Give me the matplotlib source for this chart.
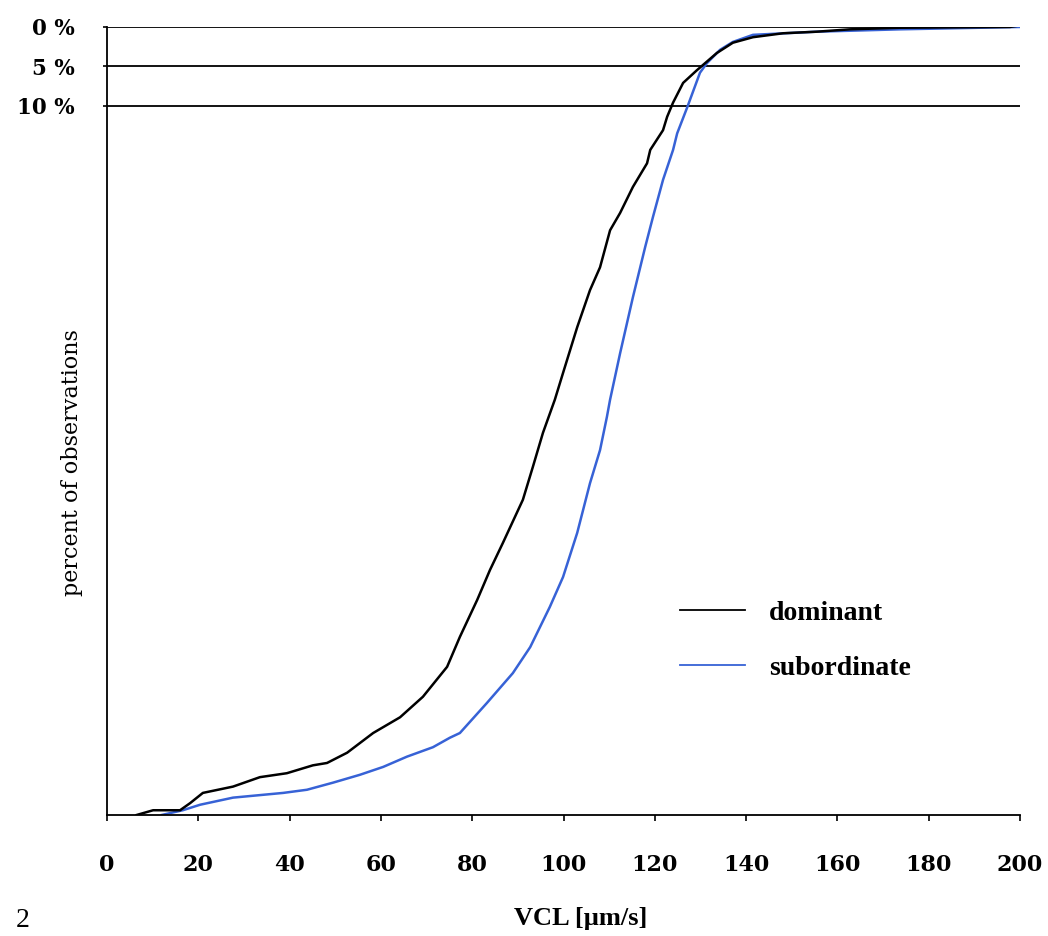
import matplotlib
matplotlib.use("Agg")
import matplotlib.pyplot as plt

# values: VCL [um/s] vs percent of observations (axis runs 0 at top)
dom_x = [6.5, 10.1, 16.0, 18.2, 21.0, 27.6, 33.5, 39.4, 45.1, 48.2, 52.6, 58.3, 64.2,
         69.2, 74.5, 77.3, 81.1, 83.9, 86.7, 91.1, 93.3, 95.5, 98.1, 99.9, 103.0,
         105.8, 108.0, 110.2, 112.4, 115.2, 118.3, 119.0, 121.8, 122.7, 124.0, 126.2,
         129.2, 131.4, 133.6, 137.1, 141.5, 148.1, 155.5, 162.8, 173.7, 197.8, 200.0]
dom_y = [100.0, 99.4, 99.4, 98.5, 97.2, 96.4, 95.2, 94.7, 93.7, 93.4, 92.1, 89.6, 87.6,
         85.0, 81.2, 77.4, 72.7, 68.9, 65.5, 60.0, 55.8, 51.5, 47.3, 43.9, 38.1,
         33.4, 30.5, 25.8, 23.6, 20.3, 17.3, 15.6, 13.1, 11.4, 9.6, 7.1,
         5.5, 4.4, 3.3, 2.0, 1.3, 0.8, 0.6, 0.3, 0.1, 0.0, -0.2]

sub_x = [12.0, 16.6, 20.4, 27.6, 38.6, 43.8, 49.5, 55.4, 60.5, 65.7, 71.4, 75.1, 77.3,
         83.2, 88.9, 92.7, 97.0, 99.9, 103.0, 105.8, 108.0, 109.5, 110.2, 112.4, 115.2,
         117.9, 119.6, 121.8, 124.0, 124.9, 127.1, 129.9, 131.4, 134.3, 137.1, 141.5,
         155.5, 173.7, 200.0]
sub_y = [100.0, 99.4, 98.7, 97.8, 97.2, 96.8, 95.9, 94.9, 93.9, 92.6, 91.4, 90.2, 89.6,
         85.8, 82.0, 78.7, 73.6, 69.8, 64.2, 57.9, 53.7, 49.5, 47.3, 41.4, 34.3,
         27.9, 24.1, 19.4, 15.6, 13.5, 10.2, 5.8, 4.6, 2.9, 1.9, 1.0,
         0.6, 0.3, 0.0]

ref_levels = [0, 5, 10]
ref_labels = ["0 %", "5 %", "10 %"]
x_ticks = [0, 20, 40, 60, 80, 100, 120, 140, 160, 180, 200]

fig = plt.figure(figsize=(10.48, 9.36), dpi=100)
ax = fig.add_axes([0.1021, 0.1293, 0.8712, 0.8419])

for lev in ref_levels:
    ax.axhline(lev, color="black", lw=1.3, zorder=1)

ax.plot(dom_x, dom_y, color="black", lw=1.8, label="dominant", zorder=3)
ax.plot(sub_x, sub_y, color="#3762d6", lw=1.8, label="subordinate", zorder=2)

ax.set_xlim(0, 200)
ax.set_ylim(100, 0)
ax.spines["top"].set_visible(False)
ax.spines["right"].set_visible(False)
ax.spines["left"].set_linewidth(1.3)
ax.spines["bottom"].set_linewidth(1.3)

ax.set_xticks(x_ticks)
ax.set_xticklabels([str(v) for v in x_ticks], fontfamily="DejaVu Serif",
                   fontweight="bold", fontsize=16)
ax.tick_params(axis="x", direction="out", length=4, width=1.2, pad=24)
ax.set_yticks(ref_levels)
ax.set_yticklabels(ref_labels, fontfamily="DejaVu Serif", fontweight="bold", fontsize=15.5)
ax.tick_params(axis="y", direction="out", length=3, width=1.2, pad=20)

leg = ax.legend(loc="center left", bbox_to_anchor=(0.6276, 0.2214), frameon=False,
                prop={"family": "Liberation Serif", "weight": "bold", "size": 20},
                handlelength=2.35, handletextpad=0.85, labelspacing=1.05,
                borderpad=0, borderaxespad=0)
for h in leg.get_lines():
    h.set_linewidth(1.3)

fig.text(0.0687, 0.506, "percent of observations", rotation=90, ha="center", va="center",
         fontfamily="DejaVu Serif", fontsize=16)
fig.text(0.554, 0.019, "VCL [µm/s]", ha="center", va="center",
         fontfamily="Liberation Serif", fontweight="bold", fontsize=19)
fig.text(0.015, 0.003, "2", ha="left", va="bottom", fontfamily="Liberation Serif", fontsize=20)

fig.savefig("out.png", dpi=100)
